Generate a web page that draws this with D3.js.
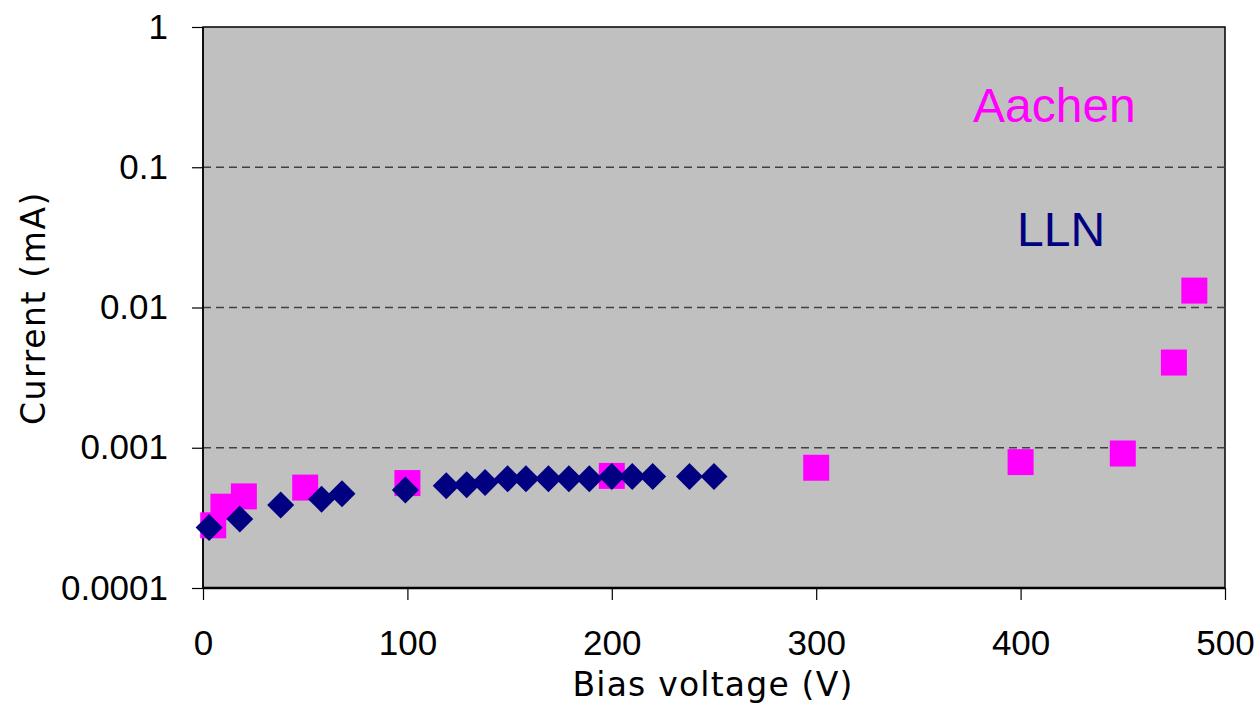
<!DOCTYPE html>
<html>
<head>
<meta charset="utf-8">
<script src="https://cdn.jsdelivr.net/npm/d3@7"></script>
<style>
    body { margin: 0; background: #fff; }
    .tick text { font-family: "Liberation Sans", Arial, sans-serif; font-size: 35px; fill: #000; }
    .axis-title { font-family: "DejaVu Sans", Verdana, sans-serif; font-size: 33px; fill: #000; letter-spacing: 1.2px; }
    .series-label { font-family: "Liberation Sans", Arial, sans-serif; font-size: 48px; }
</style>
</head>
<body>
<div class="panel"></div>
<script>

// Data

const llnVoltage = [3, 18, 38, 58, 68, 99, 119, 129, 138, 149, 158, 169, 179, 189, 200, 210, 220, 238, 250];
const llnCurrent = [2.7e-4, 3.1e-4, 3.9e-4, 4.3e-4, 4.7e-4, 5.0e-4, 5.35e-4, 5.45e-4, 5.65e-4, 6.0e-4,
                    6.0e-4, 6.0e-4, 6.0e-4, 6.0e-4, 6.25e-4, 6.25e-4, 6.25e-4, 6.25e-4, 6.25e-4];

const aachenVoltage = [5, 10, 20, 50, 100, 200, 300, 400, 450, 475, 485];
const aachenCurrent = [2.8e-4, 3.8e-4, 4.5e-4, 5.2e-4, 5.6e-4, 6.3e-4, 7.2e-4, 7.9e-4, 9.1e-4, 4.05e-3, 1.32e-2];

const xTicks = [0, 100, 200, 300, 400, 500];
const yTicks = [1e-4, 1e-3, 1e-2, 1e-1, 1];
const yTickLabels = ["0.0001", "0.001", "0.01", "0.1", "1"];

// Chart

const params = {
    width: 1260,
    height: 710,
    left: 203,
    right: 1225,
    top: 27,
    bottom: 588
};

const svg = d3.select(".panel").append("svg")
    .attr("width", params.width)
    .attr("height", params.height)
    .attr("viewBox", [0, 0, params.width, params.height]);

const x = d3.scaleLinear()
    .domain([0, 500])
    .range([params.left, params.right]);

const y = d3.scaleLog()
    .domain([1e-4, 1])
    .range([params.bottom, params.top]);

// plot area
svg.append("rect")
    .attr("x", params.left)
    .attr("y", params.top)
    .attr("width", params.right - params.left)
    .attr("height", params.bottom - params.top)
    .attr("fill", "#c0c0c0")
    .attr("stroke", "#000")
    .attr("stroke-width", 1.5);

// gridlines
svg.selectAll(".grid")
    .data(yTicks.slice(1, -1))
    .enter().append("line")
    .attr("class", "grid")
    .attr("x1", params.left)
    .attr("x2", params.right)
    .attr("y1", d => y(d))
    .attr("y2", d => y(d))
    .attr("stroke", "#404040")
    .attr("stroke-width", 1.4)
    .attr("stroke-dasharray", "8,5");

// axes
const yAxis = svg.append("g")
    .attr("transform", `translate(${params.left},0)`)
    .call(d3.axisLeft(y)
        .tickValues(yTicks)
        .tickFormat((d, i) => yTickLabels[i])
        .tickSize(11)
        .tickPadding(24));

const xAxis = svg.append("g")
    .attr("transform", `translate(0,${params.bottom})`)
    .call(d3.axisBottom(x)
        .tickValues(xTicks)
        .tickFormat(d3.format("d"))
        .tickSize(12)
        .tickPadding(30));

[yAxis, xAxis].forEach(g => {
    g.select(".domain").remove();
    g.selectAll(".tick line").attr("stroke", "#000").attr("stroke-width", 1.2);
});

svg.append("line")
    .attr("x1", params.left).attr("x2", params.left)
    .attr("y1", params.top).attr("y2", params.bottom)
    .attr("stroke", "#000").attr("stroke-width", 1.5);

svg.append("line")
    .attr("x1", params.left).attr("x2", params.right)
    .attr("y1", params.bottom).attr("y2", params.bottom)
    .attr("stroke", "#000").attr("stroke-width", 2.5);

// Aachen squares
const aachen = aachenVoltage.map((v, i) => ({ v: v, c: aachenCurrent[i] }));
const llnData = llnVoltage.map((v, i) => ({ v: v, c: llnCurrent[i] }));

const sq = 26;
svg.selectAll(".aachen")
    .data(aachen)
    .enter().append("rect")
    .attr("class", "aachen")
    .attr("x", d => x(d.v) - sq / 2)
    .attr("y", d => y(d.c) - sq / 2)
    .attr("width", sq)
    .attr("height", sq)
    .attr("fill", "#ff00ff");

// LLN diamonds
const dm = 13.5;
svg.selectAll(".lln")
    .data(llnData)
    .enter().append("path")
    .attr("class", "lln")
    .attr("d", d => {
        const cx = x(d.v), cy = y(d.c);
        return `M${cx},${cy - dm}L${cx + dm},${cy}L${cx},${cy + dm}L${cx - dm},${cy}Z`;
    })
    .attr("fill", "#000080");

// series labels
svg.append("text")
    .attr("class", "series-label")
    .attr("x", 973)
    .attr("y", 122)
    .attr("fill", "#ff00ff")
    .text("Aachen");

svg.append("text")
    .attr("class", "series-label")
    .attr("x", 1017)
    .attr("y", 246)
    .attr("fill", "#000080")
    .text("LLN");

// axis titles
svg.append("text")
    .attr("class", "axis-title")
    .attr("x", 713)
    .attr("y", 696)
    .attr("text-anchor", "middle")
    .text("Bias voltage (V)");

svg.append("text")
    .attr("class", "axis-title")
    .attr("transform", "translate(45,308) rotate(-90)")
    .attr("text-anchor", "middle")
    .style("letter-spacing", "1.6px")
    .text("Current (mA)");

</script>
</body>
</html>
